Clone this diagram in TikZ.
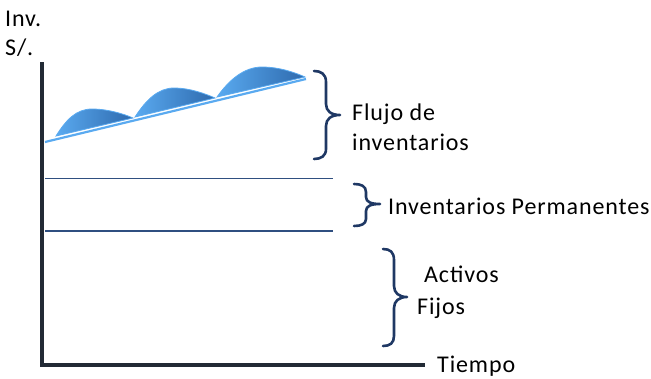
\documentclass[tikz,border=0pt]{standalone}
\usepackage{fontspec}
\setmainfont{Carlito}[LetterSpace=3.7]
\definecolor{axisc}{HTML}{222A35}
\definecolor{linec}{HTML}{2F4F80}
\definecolor{bracec}{HTML}{1F3864}
\definecolor{hlight}{HTML}{5AAAF0}
\definecolor{hdark}{HTML}{2E6AAE}
\tikzset{
  lbl/.style={anchor=base west, inner sep=0pt, font=\fontsize{24}{28}\selectfont, text=black},
  axisline/.style={draw=axisc, line width=4pt},
  level/.style={draw=linec, line width=1.8pt},
  bracepath/.style={draw=bracec, line width=2.6pt, line cap=round, line join=round},
  hump/.style={left color=hlight, right color=hdark, draw=hlight, line width=0.8pt},
  baseline/.style={draw=hlight, line width=2.2pt}
}
\begin{document}
\begin{tikzpicture}[x=1pt,y=-1pt]
\useasboundingbox (0,0) rectangle (651,378);
% axes
\coordinate (ytop) at (42,62);
\coordinate (xend) at (425,365);
\draw[axisline] (ytop) |- (xend);
% level lines
\coordinate (l1a) at (45,178.5); \coordinate (l1b) at (333,178.5);
\coordinate (l2a) at (45,231); \coordinate (l2b) at (333,231);
\draw[level] (l1a) -- (l1b);
\draw[level] (l2a) -- (l2b);
% base line of inventory flow
\coordinate (ba) at (45,142); \coordinate (bb) at (306,79);
\draw[baseline] (ba) -- (bb);
% humps
\shade[hump] (56,136) .. controls (66,120) and (76,109) .. (92,109) .. controls (108,109) and (124,114) .. (133,118) -- cycle;
\shade[hump] (135,117) .. controls (146,100) and (158,88) .. (174,88) .. controls (190,88) and (206,94) .. (215,98) -- cycle;
\shade[hump] (217,97) .. controls (229,80) and (244,67) .. (262,67) .. controls (280,67) and (296,73) .. (305,77) -- cycle;
% braces
\draw[bracepath] (314,71) .. controls (321,71) and (326,74) .. (326,82) -- (326,104) .. controls (326,111) and (331,115) .. (340,115) .. controls (331,115) and (326,119) .. (326,126) -- (326,149) .. controls (326,156) and (321,159) .. (314,159);
\draw[bracepath] (354,184) .. controls (361,184) and (366,186) .. (366,192) -- (366,197) .. controls (366,202) and (371,204) .. (380,204) .. controls (371,204) and (366,206) .. (366,211) -- (366,219) .. controls (366,224) and (361,226) .. (354,226);
\draw[bracepath] (383,249) .. controls (390,249) and (394,252) .. (394,260) -- (394,286) .. controls (394,293) and (399,297) .. (407,297) .. controls (399,297) and (394,301) .. (394,308) -- (394,336) .. controls (394,343) and (390,346) .. (383,346);
% labels
\node[lbl] (inv) at (5,26.5) {Inv.};
\node[lbl] (sol) at (5,55) {S/.};
\node[lbl] (flujo1) at (352,120) {Flujo de};
\node[lbl] (flujo2) at (352,150.5) {inventarios};
\node[lbl] (perm) at (388,214) {Inventarios Permanentes};
\node[lbl] (act1) at (424,282.5) {Activos};
\node[lbl] (act2) at (417,314.5) {Fijos};
\node[lbl] (tiempo) at (437,372) {Tiempo};
\end{tikzpicture}
\end{document}
